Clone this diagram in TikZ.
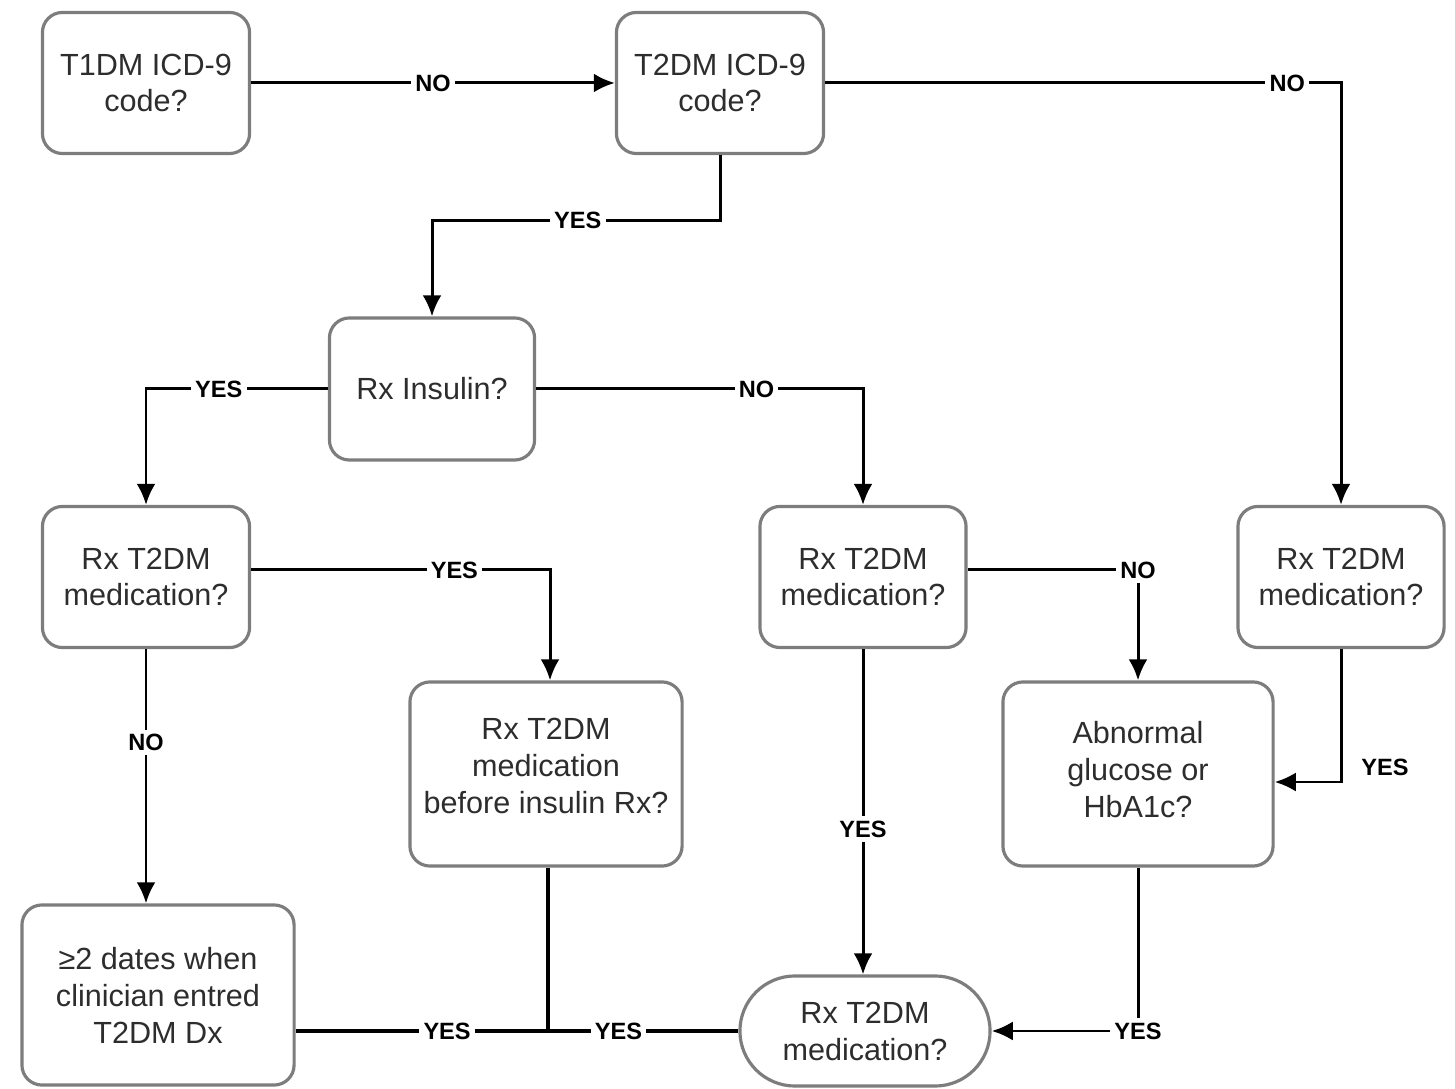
\documentclass[tikz,border=0pt]{standalone}
\usepackage{fontspec}
\setmainfont{Liberation Sans}
\usetikzlibrary{arrows.meta}
\usetikzlibrary{calc}
\definecolor{boxgray}{RGB}{125,125,125}
\definecolor{inkgray}{RGB}{45,45,45}

\begin{document}
\begin{tikzpicture}[x=0.01cm,y=-0.01cm]
\tikzstyle{qbox}=[rectangle,rounded corners=0.2cm,draw=boxgray,line width=0.9pt,fill=white,align=center,text=inkgray,font=\fontsize{8.7}{10.5}\selectfont,minimum width=2.07cm,minimum height=1.41cm,inner sep=0pt]
\tikzstyle{flow}=[->,line width=0.85pt,>={Latex[length=6pt,width=5.4pt]}]
\tikzstyle{link}=[line width=0.95pt]
\tikzstyle{lbl}=[fill=white,inner sep=1.2pt,font=\fontsize{6.7}{8}\selectfont\bfseries]

\useasboundingbox (0,0) rectangle (1455,1089);

\node [qbox] (t1) at (146,83) {T1DM ICD-9\\code?};
\node [qbox] (t2) at (720,83) {T2DM ICD-9\\code?};
\node [qbox, minimum width=2.05cm, minimum height=1.42cm] (ins) at (432,389) {Rx Insulin?};
\node [qbox] (ml) at (146,577) {Rx T2DM\\medication?};
\node [qbox, minimum width=2.06cm] (mm) at (863,577) {Rx T2DM\\medication?};
\node [qbox, minimum width=2.06cm] (mr) at (1341,577) {Rx T2DM\\medication?};
\node [qbox, minimum width=2.72cm, minimum height=1.84cm] (bef) at (546,774) {Rx T2DM\\medication\\before insulin Rx?\\[-0.21cm]};
\node [qbox, minimum width=2.70cm, minimum height=1.84cm] (abn) at (1138,774) {Abnormal\\glucose or\\HbA1c?\\[-0.27cm]};
\node [qbox, minimum width=2.72cm, minimum height=1.80cm] (dx) at (158,995) {≥2 dates when\\clinician entred\\T2DM Dx};
\node [qbox, rounded corners=0.55cm, minimum width=2.50cm, minimum height=1.10cm] (fin) at (865,1031) {Rx T2DM\\medication?};

\draw[flow] (t1) -- node[lbl,pos=0.5]{NO} (t2);
\draw[flow] (t2.east) -| node[lbl,pos=0.448]{NO} (mr.north);
\draw[flow] (t2.south) -- ++(0,65) -| node[lbl,pos=0.247]{YES} (ins.north);
\draw[flow] (ins.west) -| node[lbl,pos=0.3]{YES} (ml.north);
\draw[flow] (ins.east) -| node[lbl,pos=0.337]{NO} (mm.north);
\draw[flow] ([yshift=0.07cm]ml.east) -| node[lbl,pos=0.34]{YES} ([xshift=0.04cm]bef.north);
\draw[flow] ([yshift=0.07cm]mm.east) -| node[lbl,pos=0.5]{NO} (abn.north);
\draw[flow] (ml.south) -- node[lbl,pos=0.366]{NO} (ml.south |- dx.north);
\draw[flow] (mm.south) -- node[lbl,pos=0.553]{YES} (mm.south |- fin.north);
\draw[flow] (mr.south) |- ([yshift=-0.08cm]abn.east);
\node[lbl] (yesr) at (1385,767) {YES};
\draw[flow] (abn.south) |- node[lbl,pos=0.5]{YES} (fin.east);

\draw[link] (dx.east |- fin.west) -- node[lbl,pos=0.6]{YES} ([xshift=0.02cm]bef.south |- fin.west) -- node[lbl,pos=0.37]{YES} (fin.west);
\draw[link] ([xshift=0.02cm]bef.south) -- ([xshift=0.02cm]bef.south |- fin.west);

\end{tikzpicture}
\end{document}
